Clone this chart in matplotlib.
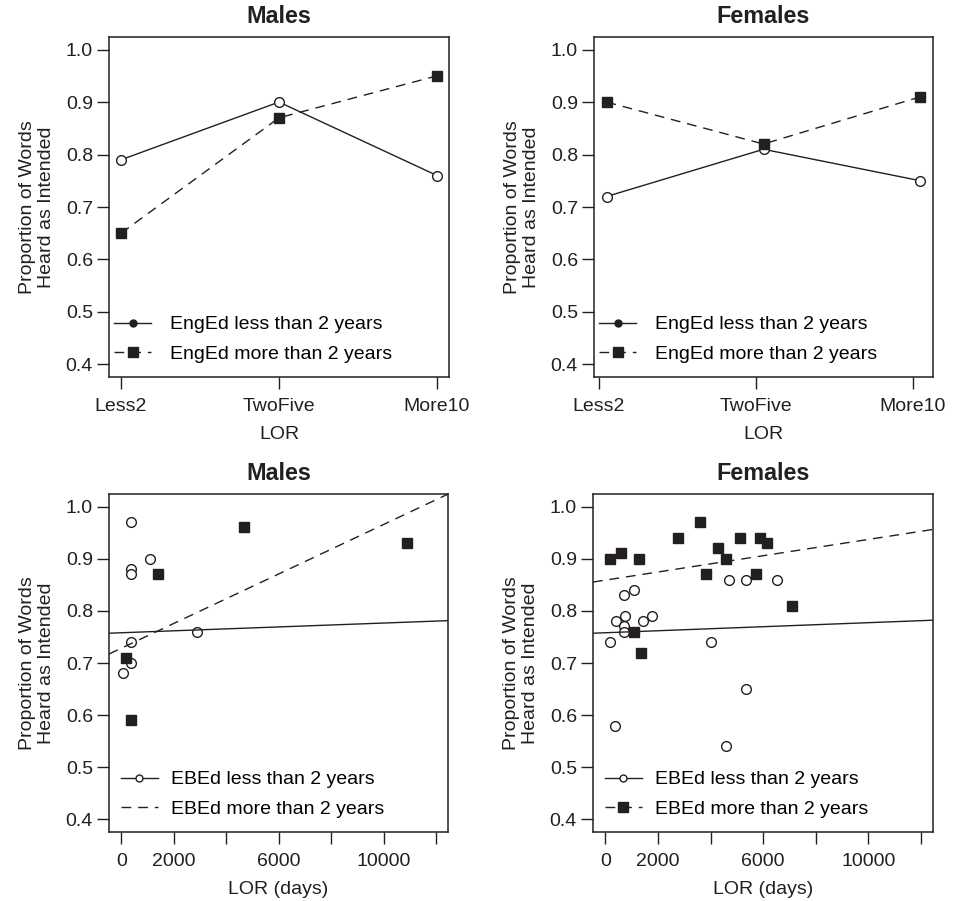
import matplotlib
matplotlib.use("Agg")
import matplotlib.pyplot as plt
from matplotlib.lines import Line2D

plt.rcParams["font.family"] = ["Liberation Sans", "DejaVu Sans"]
plt.rcParams["font.size"] = 14

INK = "#231f20"

# --- top row: group means by length of residence --------------------------
lor_groups = ["Less2", "TwoFive", "More10"]
lor_ticks = [1, 2, 3]
lor_pos_males = [1, 2, 3]
lor_pos_females = [1.05, 2.05, 3.05]
males_enged_less = [0.79, 0.90, 0.76]
males_enged_more = [0.65, 0.87, 0.95]
females_enged_less = [0.72, 0.81, 0.75]
females_enged_more = [0.90, 0.82, 0.91]

# --- bottom row: individual listeners, LOR in days ------------------------
males_less_days = [355, 1080, 368, 368, 2883, 355, 381, 76]
males_less_prop = [0.97, 0.90, 0.88, 0.87, 0.76, 0.74, 0.70, 0.68]
males_more_days = [4674, 10883, 1398, 179, 368]
males_more_prop = [0.96, 0.93, 0.87, 0.71, 0.59]

females_less_days = [4712, 5345, 6526, 1067, 712, 724, 1765, 381, 1422,
                     712, 686, 179, 4013, 5345, 343, 4571]
females_less_prop = [0.86, 0.86, 0.86, 0.84, 0.83, 0.79, 0.79, 0.78, 0.78,
                     0.77, 0.76, 0.74, 0.74, 0.65, 0.58, 0.54]
females_more_days = [179, 598, 1284, 2769, 3581, 4293, 4598, 3836, 5105,
                     5893, 6133, 5741, 7086, 1093, 1360]
females_more_prop = [0.90, 0.91, 0.90, 0.94, 0.97, 0.92, 0.90, 0.87, 0.94,
                     0.94, 0.93, 0.87, 0.81, 0.76, 0.72]

# fitted lines (intercept, slope per day)
males_less_fit = (0.758, 1.86e-6)
males_more_fit = (0.7285, 2.37e-5)
females_less_fit = (0.758, 1.93e-6)
females_more_fit = (0.8589, 7.8e-6)

y_ticks = [0.4, 0.5, 0.6, 0.7, 0.8, 0.9, 1.0]
y_labels = ["0.4", "0.5", "0.6", "0.7", "0.8", "0.9", "1.0"]
day_ticks = [0, 2000, 4000, 6000, 8000, 10000, 12000]
day_labels = ["0", "2000", "", "6000", "", "10000", ""]

W, H = 956, 901
fig = plt.figure(figsize=(W / 100, H / 100), dpi=100)


def box(l, t, r, b):
    return fig.add_axes([l / W, 1 - b / H, (r - l) / W, (b - t) / H])


axes = [box(109, 37, 449, 377), box(594, 37, 933, 377),
        box(109, 494, 448, 832), box(593, 494, 933, 832)]

open_kw = dict(marker="o", ms=7, mfc="white", mec=INK, mew=1.0, color=INK)
sq_kw = dict(marker="s", ms=7.5, mfc=INK, mec=INK, color=INK)
dash = (0, (7, 5))


def style(ax, title, xlabel):
    ax.set_ylim(0.376, 1.024)
    ax.set_yticks(y_ticks, y_labels)
    ax.tick_params(length=8.6, width=1.0, color=INK, labelcolor=INK)
    ax.tick_params(axis="y", pad=3)
    ax.tick_params(axis="x", pad=6.5)
    for s in ax.spines.values():
        s.set_linewidth(1.1)
        s.set_color(INK)
    ax.set_title(title, fontweight="bold", pad=10, color=INK)
    ax.set_xlabel(xlabel, labelpad=8, color=INK)
    ax.set_ylabel("Proportion of Words\nHeard as Intended", labelpad=8,
                  linespacing=1.15, color=INK)


def legend(ax, handles, labels, x0, pad):
    ax.legend(handles, labels, loc="lower left", bbox_to_anchor=(x0, 0.041),
              frameon=False, borderpad=0, borderaxespad=0, handlelength=1.9,
              handletextpad=pad, labelspacing=0.62, fontsize=14)


# top panels
for ax, title, xs, less, more, xlim in [
        (axes[0], "Males", lor_pos_males, males_enged_less, males_enged_more, (0.924, 3.076)),
        (axes[1], "Females", lor_pos_females, females_enged_less, females_enged_more, (0.97, 3.13))]:
    ax.plot(xs, less, lw=1.0, **open_kw)
    ax.plot(xs, more, lw=1.0, ls=dash, **sq_kw)
    ax.set_xlim(*xlim)
    ax.set_xticks(lor_ticks, lor_groups)
    style(ax, title, "LOR")
    h1 = Line2D([], [], color=INK, lw=1.0, marker="o", ms=5, mfc=INK, mec=INK)
    h2 = Line2D([], [], color=INK, lw=1.0, ls=dash, marker="s", ms=6.5, mfc=INK, mec=INK)
    legend(ax, [h1, h2], ["EngEd less than 2 years", "EngEd more than 2 years"], 0.015, 1.0)

# bottom panels
for ax, title, ld, lp, md, mp, lf, mf, sq_in_legend in [
        (axes[2], "Males", males_less_days, males_less_prop, males_more_days,
         males_more_prop, males_less_fit, males_more_fit, False),
        (axes[3], "Females", females_less_days, females_less_prop, females_more_days,
         females_more_prop, females_less_fit, females_more_fit, True)]:
    ax.plot(ld, lp, ls="none", **open_kw)
    ax.plot(md, mp, ls="none", **sq_kw)
    ax.axline((0, lf[0]), slope=lf[1], color=INK, lw=1.0)
    ax.axline((0, mf[0]), slope=mf[1], color=INK, lw=1.0, ls=dash)
    ax.set_xlim(-475, 12460)
    ax.set_xticks(day_ticks, day_labels)
    style(ax, title, "LOR (days)")
    h1 = Line2D([], [], color=INK, lw=1.0, marker="o", ms=5, mfc="white", mec=INK)
    if sq_in_legend:
        h2 = Line2D([], [], color=INK, lw=1.0, ls=dash, marker="s", ms=6.5, mfc=INK, mec=INK)
    else:
        h2 = Line2D([], [], color=INK, lw=1.0, ls=dash)
    legend(ax, [h1, h2], ["EBEd less than 2 years", "EBEd more than 2 years"], 0.035, 0.7)

fig.savefig("out.png", dpi=100)
